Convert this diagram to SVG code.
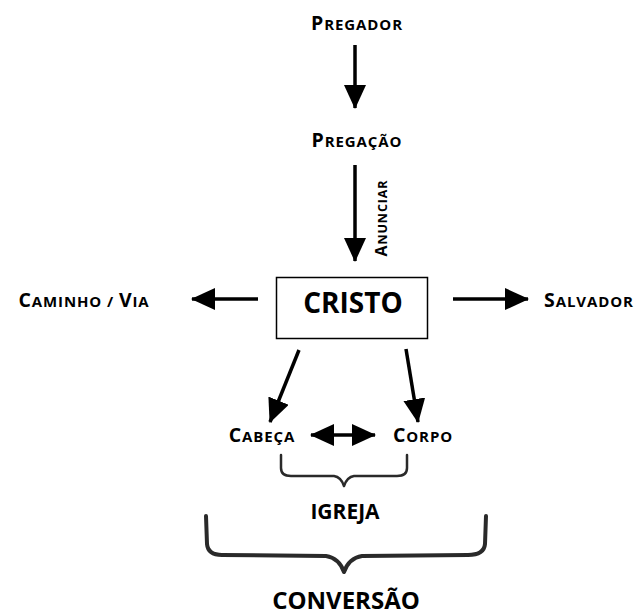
<svg xmlns="http://www.w3.org/2000/svg" width="637" height="616" viewBox="0 0 637 616">
<style>
text{font-family:"Open Sans","Noto Sans","Liberation Sans",sans-serif;font-weight:bold;fill:#000}
.lab{letter-spacing:0.9px}
.sc{font-size:15px}
.big{font-size:19.5px}
.ln{stroke:#000;stroke-width:3.5;fill:none}
.br{stroke:#2a2a2a;fill:none;stroke-linecap:round;stroke-linejoin:round}
</style>
<defs>
<marker id="ah" markerUnits="userSpaceOnUse" markerWidth="24" markerHeight="22" viewBox="0 0 24 22" refX="23" refY="11" orient="auto">
<path d="M0,0 L24,11 L0,22 Z" fill="#000"/>
</marker>
<marker id="ahs" markerUnits="userSpaceOnUse" markerWidth="24" markerHeight="22" viewBox="0 0 24 22" refX="1" refY="11" orient="auto">
<path d="M24,0 L0,11 L24,22 Z" fill="#000"/>
</marker>
</defs>
<rect width="637" height="616" fill="#fff"/>
<g id="connectors">
<line class="ln" x1="355" y1="45" x2="355" y2="108" marker-end="url(#ah)"/>
<line class="ln" x1="355" y1="165" x2="355" y2="261" marker-end="url(#ah)"/>
<line class="ln" x1="258" y1="299" x2="192" y2="299" marker-end="url(#ah)"/>
<line class="ln" x1="453" y1="299" x2="528" y2="299" marker-end="url(#ah)"/>
<line class="ln" x1="299" y1="350" x2="270" y2="422" marker-end="url(#ah)"/>
<line class="ln" x1="406" y1="349" x2="418" y2="422" marker-end="url(#ah)"/>
<line class="ln" x1="311" y1="435" x2="375" y2="435" marker-start="url(#ahs)" marker-end="url(#ah)"/>
<text class="lab" transform="translate(387,218) rotate(-90)" text-anchor="middle"><tspan font-size="16">A</tspan><tspan font-size="12.5">NUNCIAR</tspan></text>
</g>
<g id="pregador"><text class="lab" x="357" y="30" text-anchor="middle"><tspan class="big">P</tspan><tspan class="sc">REGADOR</tspan></text></g>
<g id="pregacao"><text class="lab" x="357" y="147" text-anchor="middle"><tspan class="big">P</tspan><tspan class="sc">REGAÇÃO</tspan></text></g>
<g id="cristo">
<rect x="276.5" y="277.5" width="151" height="61" fill="#fff" stroke="#000" stroke-width="1.5"/>
<text x="353" y="313" text-anchor="middle" font-size="28">CRISTO</text>
</g>
<g id="caminho"><text class="lab" x="84" y="307" text-anchor="middle"><tspan class="big">C</tspan><tspan class="sc">AMINHO / </tspan><tspan class="big">V</tspan><tspan class="sc">IA</tspan></text></g>
<g id="salvador"><text class="lab" x="589" y="307" text-anchor="middle"><tspan class="big">S</tspan><tspan class="sc">ALVADOR</tspan></text></g>
<g id="cabeca"><text class="lab" x="262" y="442" text-anchor="middle"><tspan class="big">C</tspan><tspan class="sc">ABEÇA</tspan></text></g>
<g id="corpo"><text class="lab" x="423" y="442" text-anchor="middle"><tspan class="big">C</tspan><tspan class="sc">ORPO</tspan></text></g>
<g id="igreja">
<path class="br" stroke-width="2.5" d="M281,455 L281,468 Q281,476 291,476 L334,476 Q341,477 344,486 Q347,477 354,476 L397,476 Q407,476 407,468 L407,455"/>
<text x="345" y="519" text-anchor="middle" font-size="21">IGREJA</text>
</g>
<g id="conversao">
<path class="br" stroke-width="4" d="M206,516 L207,544 Q208,555 222,555 L326,556 Q339,558 344,572 Q349,558 362,556 L468,555 Q484,555 485,544 L486,516"/>
<text x="346" y="609" text-anchor="middle" font-size="24">CONVERSÃO</text>
</g>
</svg>
